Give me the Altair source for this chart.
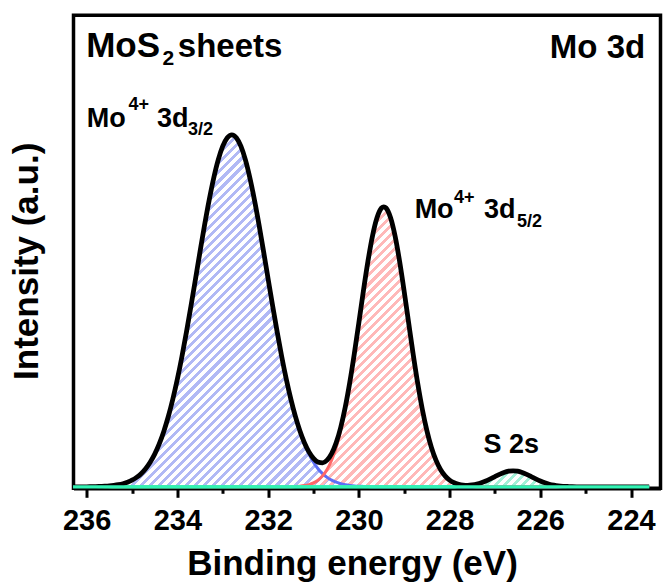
import math
import altair as alt
import pandas as pd

# ---------------- data ----------------
energy = [
    236.3, 236.2, 236.1, 236.0, 235.9, 235.8, 235.7, 235.6, 235.5, 235.4,
    235.3, 235.2, 235.1, 235.0, 234.9, 234.8, 234.7, 234.6, 234.5, 234.4,
    234.3, 234.2, 234.1, 234.0, 233.9, 233.8, 233.7, 233.6, 233.5, 233.4,
    233.3, 233.2, 233.1, 233.0, 232.9, 232.8, 232.7, 232.6, 232.5, 232.4,
    232.3, 232.2, 232.1, 232.0, 231.9, 231.8, 231.7, 231.6, 231.5, 231.4,
    231.3, 231.2, 231.1, 231.0, 230.9, 230.8, 230.7, 230.6, 230.5, 230.4,
    230.3, 230.2, 230.1, 230.0, 229.9, 229.8, 229.7, 229.6, 229.5, 229.45,
    229.4, 229.3, 229.2, 229.1, 229.0, 228.9, 228.8, 228.7, 228.6, 228.5,
    228.4, 228.3, 228.2, 228.1, 228.0, 227.9, 227.8, 227.7, 227.6, 227.5,
    227.4, 227.3, 227.2, 227.1, 227.0, 226.9, 226.8, 226.7, 226.6, 226.5,
    226.4, 226.3, 226.2, 226.1, 226.0, 225.9, 225.8, 225.7, 225.6, 225.5,
    225.4, 225.3, 225.2, 225.1, 225.0, 224.9, 224.8, 224.7, 224.6, 224.5,
    224.4, 224.3, 224.2, 224.1, 224.0, 223.9, 223.8, 223.7, 223.6,
]

mo_3d32 = [
    0, 0, 0, 0, 0.1, 0.2, 0.4, 0.6, 0.9, 1.4,
    2.1, 3.1, 4.6, 6.6, 9.4, 13.1, 18.1, 24.6, 32.7, 42.9,
    55.4, 70.3, 87.8, 107.8, 130.2, 154.8, 180.9, 208.0, 235.3, 261.9,
    286.6, 308.6, 326.9, 340.6, 349.1, 352.0, 349.1, 340.6, 326.9, 308.6,
    286.6, 261.9, 235.3, 208.0, 180.9, 154.8, 130.2, 107.8, 87.8, 70.3,
    55.4, 42.9, 32.7, 24.6, 18.1, 13.1, 9.4, 6.6, 4.6, 3.1,
    2.1, 1.4, 0.9, 0.6, 0.4, 0.2, 0.1, 0, 0, 0,
    0, 0, 0, 0, 0, 0, 0, 0, 0, 0,
    0, 0, 0, 0, 0, 0, 0, 0, 0, 0,
    0, 0, 0, 0, 0, 0, 0, 0, 0, 0,
    0, 0, 0, 0, 0, 0, 0, 0, 0, 0,
    0, 0, 0, 0, 0, 0, 0, 0, 0, 0,
    0, 0, 0, 0, 0, 0, 0, 0, 0,
]

mo_3d52 = [
    0, 0, 0, 0, 0, 0, 0, 0, 0, 0,
    0, 0, 0, 0, 0, 0, 0, 0, 0, 0,
    0, 0, 0, 0, 0, 0, 0, 0, 0, 0,
    0, 0, 0, 0, 0, 0, 0, 0, 0, 0,
    0, 0, 0, 0, 0, 0, 0, 0, 0.1, 0.3,
    0.6, 1.2, 2.2, 3.9, 6.6, 10.9, 17.3, 26.6, 39.3, 56.2,
    77.4, 102.9, 132.0, 163.4, 195.3, 225.1, 250.5, 269.0, 278.8, 280.0,
    278.8, 269.0, 250.5, 225.1, 195.3, 163.4, 132.0, 102.9, 77.4, 56.2,
    39.3, 26.6, 17.3, 10.9, 6.6, 3.9, 2.2, 1.2, 0.6, 0.3,
    0.1, 0, 0, 0, 0, 0, 0, 0, 0, 0,
    0, 0, 0, 0, 0, 0, 0, 0, 0, 0,
    0, 0, 0, 0, 0, 0, 0, 0, 0, 0,
    0, 0, 0, 0, 0, 0, 0, 0, 0,
]

s_2s = [
    0, 0, 0, 0, 0, 0, 0, 0, 0, 0,
    0, 0, 0, 0, 0, 0, 0, 0, 0, 0,
    0, 0, 0, 0, 0, 0, 0, 0, 0, 0,
    0, 0, 0, 0, 0, 0, 0, 0, 0, 0,
    0, 0, 0, 0, 0, 0, 0, 0, 0, 0,
    0, 0, 0, 0, 0, 0, 0, 0, 0, 0,
    0, 0, 0, 0, 0, 0, 0, 0, 0, 0,
    0, 0, 0, 0, 0, 0, 0, 0, 0, 0,
    0, 0, 0, 0, 0, 0.1, 0.3, 0.5, 0.9, 1.6,
    2.6, 4.0, 5.8, 7.9, 10.2, 12.4, 14.3, 15.6, 16.0, 15.6,
    14.3, 12.4, 10.2, 7.9, 5.8, 4.0, 2.6, 1.6, 0.9, 0.5,
    0.3, 0.1, 0, 0, 0, 0, 0, 0, 0, 0,
    0, 0, 0, 0, 0, 0, 0, 0, 0,
]

envelope = [
    0, 0, 0, 0, 0.1, 0.2, 0.4, 0.6, 0.9, 1.4,
    2.1, 3.1, 4.6, 6.6, 9.4, 13.1, 18.1, 24.6, 32.7, 42.9,
    55.4, 70.3, 87.8, 107.8, 130.2, 154.8, 180.9, 208.0, 235.3, 261.9,
    286.6, 308.6, 326.9, 340.6, 349.1, 352.0, 349.1, 340.6, 326.9, 308.6,
    286.6, 261.9, 235.3, 208.0, 180.9, 154.8, 130.2, 107.8, 87.9, 70.6,
    56.0, 44.1, 34.9, 28.5, 24.7, 24.0, 26.7, 33.2, 43.9, 59.3,
    79.5, 104.3, 132.9, 164.0, 195.7, 225.3, 250.6, 269.0, 278.8, 280.0,
    278.8, 269.0, 250.5, 225.1, 195.3, 163.4, 132.0, 102.9, 77.4, 56.2,
    39.3, 26.6, 17.3, 10.9, 6.6, 4.0, 2.5, 1.7, 1.5, 1.9,
    2.7, 4.0, 5.8, 7.9, 10.2, 12.4, 14.3, 15.6, 16.0, 15.6,
    14.3, 12.4, 10.2, 7.9, 5.8, 4.0, 2.6, 1.6, 0.9, 0.5,
    0.3, 0.1, 0, 0, 0, 0, 0, 0, 0, 0,
    0, 0, 0, 0, 0, 0, 0, 0, 0,
]

background = [0.0] * len(energy)

x_ticks = [224, 225, 226, 227, 228, 229, 230, 231, 232, 233, 234, 235, 236]

mos_text = ["MoS"]
mos_x = [236.01]
mos_y = [430]

title_text = ["sheets", "Mo 3d"]
title_x = [233.99, 225.79]
title_y = [430, 429]

sub_text = ["2"]
sub_x = [234.33]
sub_y = [422]

peak_text = ["Mo", "3d", "Mo", "3d", "S 2s"]
peak_x = [236.0, 234.449, 228.77, 227.240, 227.25]
peak_y = [360, 360, 269, 269, 34]

script_text = ["4+", "3/2", "4+", "5/2"]
script_x = [235.08, 233.766, 227.90, 226.513]
script_y = [377, 352, 284, 260]

# ---------------- layout / styles ----------------
W_PLOT, H_PLOT = 587, 473
X_DOMAIN = [223.35, 236.29]
Y_DOMAIN = [-1.5, 471.5]
FONT = "Liberation Sans"

BLUE_LINE, BLUE_FILL = "#5d6ef6", "#b1b9f5"
RED_LINE, RED_FILL = "#ff6868", "#ffb8b8"
GREEN_LINE, GREEN_FILL = "#33f3b4", "#a2f1d7"
CLEAR = "rgba(255,255,255,0)"
PERIOD, STRIPE = 6.4, 2.9

px_per_ev = W_PLOT / (X_DOMAIN[1] - X_DOMAIN[0])
px_per_unit = H_PLOT / (Y_DOMAIN[1] - Y_DOMAIN[0])


def stripe_fill(color, values):
    w = (max(energy) - min(energy)) * px_per_ev
    h = max(values) * px_per_unit
    length = (w + h) / math.sqrt(2)
    c = (w + h) / (w * w + h * h)
    stops = []
    i = 0
    while i * PERIOD < length:
        t0 = i * PERIOD / length
        t1 = min((i * PERIOD + STRIPE) / length, 1.0)
        t2 = min((i + 1) * PERIOD / length, 1.0)
        stops += [
            alt.GradientStop(offset=round(t0, 5), color=color),
            alt.GradientStop(offset=round(t1, 5), color=color),
            alt.GradientStop(offset=round(t1, 5), color=CLEAR),
            alt.GradientStop(offset=round(t2, 5), color=CLEAR),
        ]
        i += 1
    return alt.LinearGradient(gradient="linear", stops=stops,
                              x1=0, y1=0, x2=round(w * c, 5), y2=round(h * c, 5))


x_axis = alt.Axis(
    values=x_ticks,
    labelExpr="datum.value % 2 === 0 ? datum.label : ''",
    tickSize={"condition": {"test": "datum.value % 2 !== 0", "value": 5}, "value": 9},
    tickWidth=3, tickColor="black",
    domainColor="black", domainWidth=3.5,
    labelFont=FONT, labelFontSize=29, labelFontWeight="bold", labelColor="black",
    labelPadding=9, labelFlush=False, labelOverlap=False, grid=False,
    title="Binding energy (eV)", titleFont=FONT, titleFontSize=35,
    titleFontWeight="bold", titleColor="black",
    titleX=278.5, titleY=86.5, titleAlign="center", titleBaseline="alphabetic",
)
y_axis = alt.Axis(
    labels=False, ticks=False, domain=False, grid=False,
    title="Intensity (a.u.)", titleFont=FONT, titleFontSize=35,
    titleFontWeight="bold", titleColor="black", titleAngle=270,
    titleX=-36.5, titleY=245.5, titleAlign="center", titleBaseline="alphabetic",
)
x_scale = alt.Scale(domain=X_DOMAIN, reverse=True, nice=False, zero=False)
y_scale = alt.Scale(domain=Y_DOMAIN, nice=False, zero=False)


def X(field):
    return alt.X(f"{field}:Q", scale=x_scale, axis=x_axis, title="Binding energy (eV)")


def Y(field):
    return alt.Y(f"{field}:Q", scale=y_scale, axis=y_axis, title="Intensity (a.u.)")


df = pd.DataFrame({
    "energy": energy, "a": mo_3d32, "b": mo_3d52, "s": s_2s,
    "env": envelope, "bg": background,
})

base = alt.Chart(df)

area_a = base.mark_area(fill=stripe_fill(BLUE_FILL, mo_3d32), interpolate="monotone").encode(x=X("energy"), y=Y("a"))
area_b = base.mark_area(fill=stripe_fill(RED_FILL, mo_3d52), interpolate="monotone").encode(x=X("energy"), y=Y("b"))
area_s = base.mark_area(fill=stripe_fill(GREEN_FILL, s_2s), interpolate="monotone").encode(x=X("energy"), y=Y("s"))

line_a = base.mark_line(color=BLUE_LINE, strokeWidth=3, interpolate="monotone").encode(x=X("energy"), y=Y("a"))
line_b = base.mark_line(color=RED_LINE, strokeWidth=3, interpolate="monotone").encode(x=X("energy"), y=Y("b"))
line_s = base.mark_line(color=GREEN_LINE, strokeWidth=3, interpolate="monotone").encode(x=X("energy"), y=Y("s"))

env_line = base.mark_line(color="black", strokeWidth=4.8, interpolate="monotone",
                          strokeJoin="round").encode(x=X("energy"), y=Y("env"))
bg_line = base.mark_line(color=GREEN_LINE, strokeWidth=3.3).encode(x=X("energy"), y=Y("bg"))


def text_layer(texts, xs, ys, size):
    d = pd.DataFrame({"text": texts, "x": xs, "y": ys})
    return alt.Chart(d).mark_text(
        align="left", baseline="alphabetic", font=FONT, fontWeight="bold",
        fontSize=size, color="black",
    ).encode(x=X("x"), y=Y("y"), text="text:N")


t_mos = text_layer(mos_text, mos_x, mos_y, 35)
t_title = text_layer(title_text, title_x, title_y, 33)
t_sub = text_layer(sub_text, sub_x, sub_y, 21)
t_peak = text_layer(peak_text, peak_x, peak_y, 27)
t_script = text_layer(script_text, script_x, script_y, 18)

chart = alt.layer(
    area_a, area_b, area_s, line_a, line_b, line_s, env_line, bg_line,
    t_mos, t_title, t_sub, t_peak, t_script,
).properties(
    width=W_PLOT, height=H_PLOT,
    padding={"left": 73.5, "top": 15.3, "right": 3.5, "bottom": 96.7},
    autosize=alt.AutoSizeParams(type="none"),
    background="white",
).configure_view(stroke="black", strokeWidth=3.5)

chart.save("out.html", embed_options={"renderer": "svg", "actions": False})
